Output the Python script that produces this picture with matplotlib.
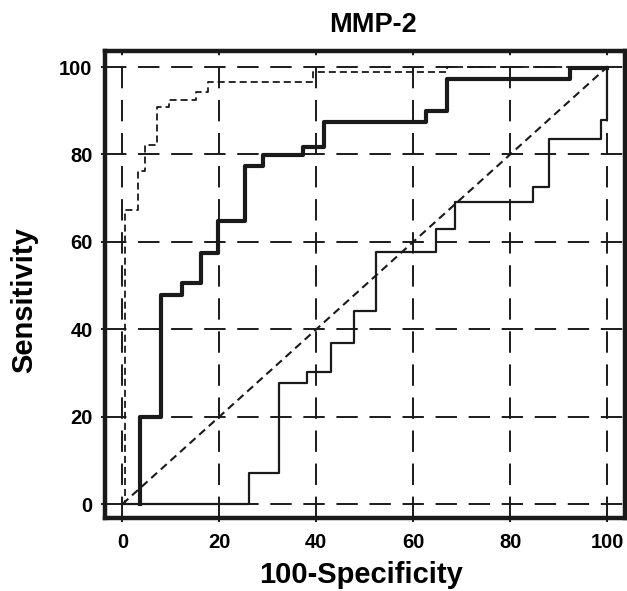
import matplotlib
matplotlib.use("Agg")
import matplotlib.pyplot as plt

plt.rcParams['font.family'] = ['Liberation Sans', 'DejaVu Sans']

# ROC curves for MMP-2
bold_x = [3.7, 3.7, 7.9, 12.2, 16.2, 19.8, 25.3, 28.9, 37.3, 41.6, 62.6, 67.0, 92.3, 100]
bold_y = [0, 20.0, 47.8, 50.5, 57.4, 64.8, 77.4, 79.9, 81.8, 87.5, 90.0, 97.3, 99.9, 99.9]

thin_x = [0, 26.1, 32.3, 38.0, 43.0, 47.8, 52.3, 64.8, 68.7, 84.7, 88.0, 98.8, 100]
thin_y = [0, 7.0, 27.6, 30.3, 36.8, 44.2, 57.6, 62.9, 69.2, 72.6, 83.5, 87.9, 100]

dash_x = [0, 0.5, 3.3, 4.7, 7.2, 9.6, 15.2, 17.7, 39.4, 67.0, 100]
dash_y = [0, 67.3, 76.3, 82.2, 90.9, 92.4, 94.3, 96.6, 98.9, 100, 100]

ref_line = [0, 100]
ticks = [0, 20, 40, 60, 80, 100]

fig = plt.figure(figsize=(6.27, 5.91), dpi=100)
ax = fig.add_axes([105 / 627, 1 - 518 / 591, 520 / 627, 467.5 / 591])

for t in ticks:
    ax.axvline(t, color='#1a1a1a', lw=1.4, ls=(0, (11, 6)), zorder=1)
    ax.axhline(t, color='#1a1a1a', lw=1.4, ls=(0, (11, 6)), zorder=1)

ax.plot(ref_line, ref_line, color='#1a1a1a', lw=1.5, ls=(0, (3.8, 2.4)), zorder=2)
ax.step(dash_x, dash_y, where='post', color='#1a1a1a', lw=1.3, ls=(0, (3.9, 2.2)), zorder=3)
ax.step(thin_x, thin_y, where='post', color='#1a1a1a', lw=1.6, zorder=3)
ax.step(bold_x, bold_y, where='post', color='#1a1a1a', lw=3.0, zorder=4)

ax.set_xlim(-3.6, 103.7)
ax.set_ylim(-3.2, 103.8)
ax.set_xticks(ticks)
ax.set_yticks(ticks)
ax.tick_params(length=3, width=1.4, color='#1a1a1a', labelsize=14.5)
ax.tick_params(axis='x', pad=8)
ax.tick_params(axis='y', pad=6)
for lab in ax.get_xticklabels() + ax.get_yticklabels():
    lab.set_fontweight('bold')
for sp in ax.spines.values():
    sp.set_linewidth(3.2)
    sp.set_color('#1a1a1a')

ax.set_xlabel('100-Specificity', fontsize=21, fontweight='bold', labelpad=6, x=0.493)
ax.set_ylabel('Sensitivity', fontsize=21, fontweight='bold', labelpad=15, y=0.466)
ax.set_title('MMP-2', fontsize=19.5, fontweight='bold', pad=13, x=0.515)

fig.savefig('out.png', dpi=100)
